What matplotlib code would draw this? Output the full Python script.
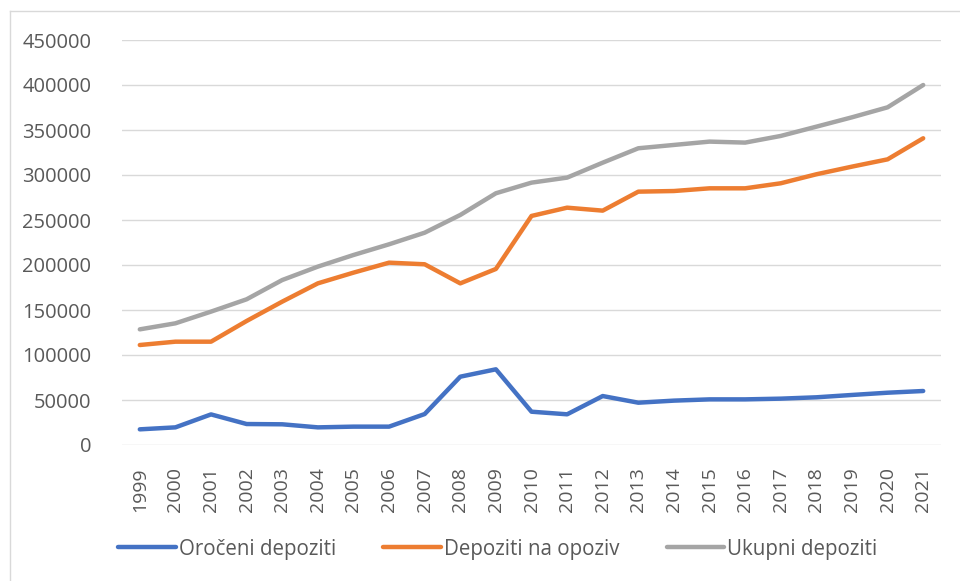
import matplotlib.pyplot as plt
from matplotlib.lines import Line2D

years = list(range(1999, 2022))
oroceni = [17400, 19600, 34000, 23300, 23000, 19600, 20400, 20400, 34400, 75900, 84100,
           37000, 34100, 54400, 47000, 49300, 50700, 50700, 51500, 53000, 55600, 58100, 60000]
na_opoziv = [111100, 114800, 114800, 137800, 159300, 179600, 191500, 202600, 200800, 179600, 195600,
             254500, 263700, 260400, 281500, 282200, 285200, 285200, 290800, 300800, 309300, 317400, 340800]
ukupni = [128500, 135200, 148200, 161900, 183300, 198200, 211100, 223000, 235900, 255600, 279700,
          291500, 297100, 313700, 329700, 333400, 337100, 336000, 343400, 353700, 364100, 375200, 400000]
y_ticks = list(range(0, 450001, 50000))

plt.rcParams['font.family'] = ['Open Sans', 'DejaVu Sans']
txt_color = '#595959'
grid_color = '#D9D9D9'

fig = plt.figure(figsize=(9.6, 5.81), dpi=100)
ax = fig.add_axes([122 / 960, 1 - 445 / 581, (941 - 122) / 960, (445 - 40) / 581])

x = list(range(len(years)))
ax.plot(x, oroceni, color='#4472C4', lw=3.2, solid_capstyle='round', solid_joinstyle='round', label='Oročeni depoziti')
ax.plot(x, na_opoziv, color='#ED7D31', lw=3.2, solid_capstyle='round', solid_joinstyle='round', label='Depoziti na opoziv')
ax.plot(x, ukupni, color='#A5A5A5', lw=3.2, solid_capstyle='round', solid_joinstyle='round', label='Ukupni depoziti')

ax.set_xlim(-0.5, len(years) - 0.5)
ax.set_ylim(0, 450000)
ax.set_yticks(y_ticks, [str(v) for v in y_ticks])
ax.set_xticks(x, [str(y) for y in years], rotation=90)
ax.tick_params(axis='y', length=0, pad=22, labelsize=14.5, labelcolor=txt_color)
ax.tick_params(axis='x', length=0, pad=16, labelsize=14, labelcolor=txt_color)
for lbl in ax.get_xticklabels():
    lbl.set_va('top')

ax.grid(axis='y', color=grid_color, lw=1)
ax.set_axisbelow(True)
for s in ax.spines.values():
    s.set_visible(False)

fig.legend(loc='center', bbox_to_anchor=(498 / 960, 1 - 549 / 581), ncol=3, frameon=False,
           fontsize=14.8, labelcolor=txt_color, handlelength=2.8, handletextpad=0.15,
           columnspacing=2.3)

# outer chart frame (left and top edges only)
fig.add_artist(Line2D([10 / 960, 10 / 960], [0, 1 - 11 / 581], color=grid_color, lw=1))
fig.add_artist(Line2D([10 / 960, 1], [1 - 11 / 581, 1 - 11 / 581], color=grid_color, lw=1))

fig.savefig('out.png', dpi=100)
